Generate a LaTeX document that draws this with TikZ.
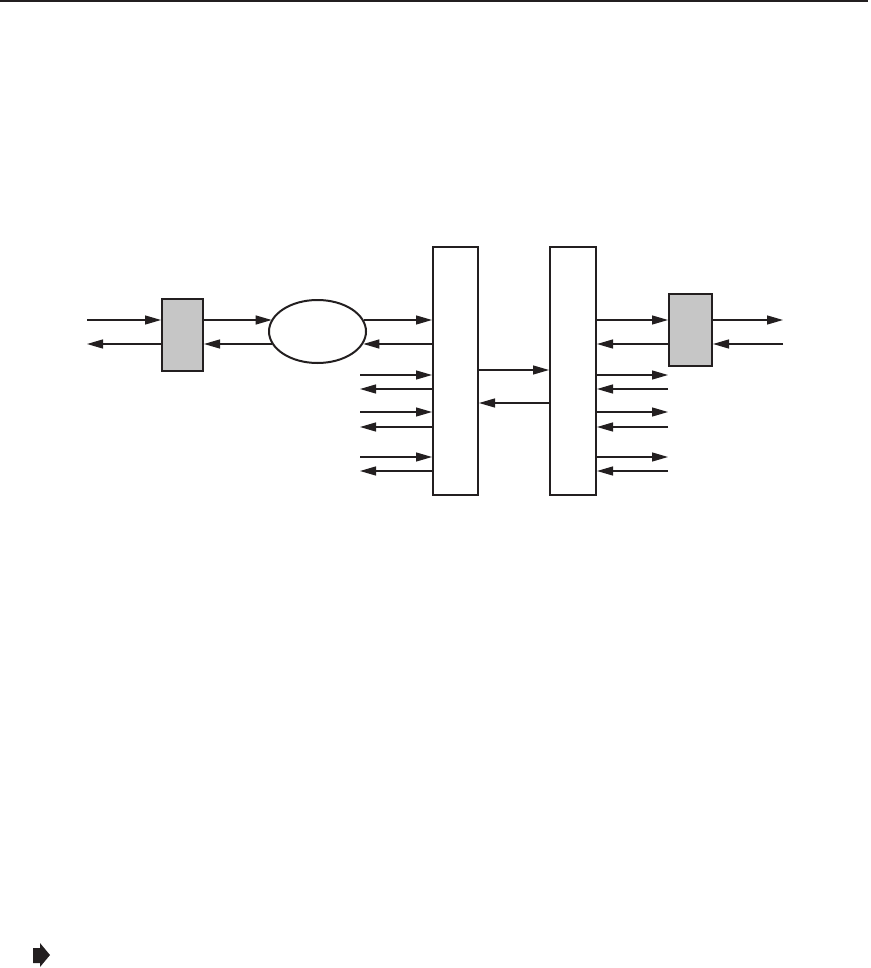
\documentclass[tikz,border=0pt]{standalone}
\usepackage{tikz}
\usetikzlibrary{arrows.meta,positioning,shapes.geometric,calc}
\definecolor{ink}{HTML}{231F20}
\definecolor{boxgrey}{HTML}{C6C6C6}
\tikzset{
  greybox/.style  = {draw=ink, fill=boxgrey, line width=2pt, inner sep=0pt},
  tallbox/.style  = {draw=ink, fill=white, line width=2pt, inner sep=0pt,
                     minimum width=45pt, minimum height=248pt},
  ringnode/.style = {ellipse, draw=ink, line width=2pt, inner sep=0pt,
                     minimum width=97pt, minimum height=63pt},
  flow/.style     = {-{Triangle[length=16pt,width=9pt]}, draw=ink, line width=1.3pt},
}
\begin{document}
\begin{tikzpicture}[x=1pt,y=-1pt]
    \useasboundingbox (0,0) rectangle (870,968);
    \draw[ink,line width=2pt] (0,1) -- (868,1);
    \node[greybox,minimum width=41pt,minimum height=72pt] (lbox) at (182.5,335) {};
    \node[ringnode] (ring) at (317.5,331.5) {};
    \node[tallbox] (sw1) at (455.5,371) {};
    \node[tallbox,minimum width=46pt] (sw2) at (573,371) {};
    \node[greybox,minimum width=43pt,minimum height=72pt] (rbox) at (690.5,330) {};
    \coordinate (inL) at (87,320);  \coordinate (outL) at (87,344);
    \coordinate (outR) at (783,320); \coordinate (inR) at (783,344);
    \coordinate (mid1) at (514,370); \coordinate (mid2) at (514,403);
    \draw[flow] (inL) -- (inL -| lbox.west);
    \draw[flow] (outL -| lbox.west) -- (outL);
    \draw[flow] (lbox.east |- inL) -- (ring.165.6 |- inL);
    \draw[flow] (ring.195.3 |- outL) -- (lbox.east |- outL);
    \draw[flow] (ring.14.4 |- inL) -- (sw1.west |- inL);
    \draw[flow] (sw1.west |- outL) -- (ring.-15.3 |- outL);
    \draw[flow] (sw1.east |- mid1) -- (sw2.west |- mid1);
    \draw[flow] (sw2.west |- mid2) -- (sw1.east |- mid2);
    \draw[flow] (sw2.east |- outR) -- (rbox.west |- outR);
    \draw[flow] (rbox.west |- inR) -- (sw2.east |- inR);
    \draw[flow] (rbox.east |- outR) -- (outR);
    \draw[flow] (inR) -- (inR -| rbox.east);
    \foreach \a/\b/\n in {375/389/1,412/427/2,457/471/3} {
      \coordinate (lin\n) at (360,\a);  \coordinate (lout\n) at (360,\b);
      \coordinate (rout\n) at (668,\a); \coordinate (rin\n) at (668,\b);
      \draw[flow] (lin\n) -- (lin\n -| sw1.west);
      \draw[flow] (lout\n -| sw1.west) -- (lout\n);
      \draw[flow] (rout\n -| sw2.east) -- (rout\n);
      \draw[flow] (rin\n) -- (rin\n -| sw2.east);
    }
    \fill[ink] (33,948) -- (40,948) -- (40,943) -- (50,955) -- (40,967)
               -- (40,963) -- (33,963) -- cycle;
  \end{tikzpicture}
\end{document}
